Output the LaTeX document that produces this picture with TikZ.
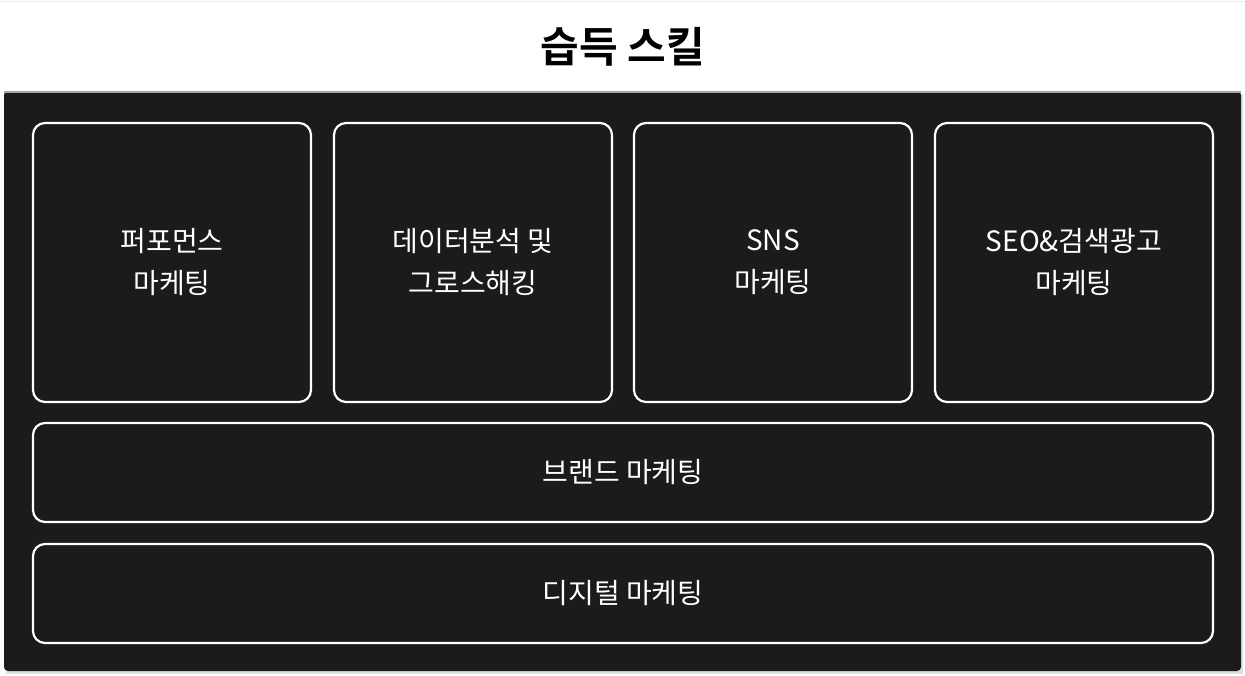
\documentclass[tikz,border=0pt]{standalone}
\usepackage{fontspec}
\newfontfamily\cjk{Noto Sans CJK KR}[BoldFont={Noto Sans CJK KR Bold}]
\definecolor{panel}{HTML}{1B1B1B}

\begin{document}
\begin{tikzpicture}
  [x=1pt,y=-1pt,
   skill/.style={draw=white,line width=2.2pt,rounded corners=12pt,fill=panel,
     text=white,font=\cjk\fontsize{28}{42}\selectfont,align=center,
     inner sep=0pt,minimum width=278pt,minimum height=279pt},
   wide/.style={skill,minimum width=1180pt,minimum height=99pt}]
  \useasboundingbox (0,0) rectangle (1245,675);
  \fill[white] (0,0) rectangle (1245,675);
  \draw[gray!15,line width=1pt] (0,1) -- (1245,1);

  % panel
  \fill[gray!25] (6,94) rectangle (1243,674);
  \fill[panel,rounded corners=4pt] (4,91) rectangle (1241,671);
  \draw[gray!70,line width=2.5pt] (4,92) -- (1241,92);

  \node[font=\cjk\bfseries\fontsize{42}{50}\selectfont] (title) at (623,47) {습득 스킬};

  \node[skill] (perf) at (172,262.5) {퍼포먼스\\마케팅};
  \node[skill] (data) at (473,262.5) {데이터분석 및\\그로스해킹};
  \node[skill] (sns) at (773,262.5) {SNS\\마케팅};
  \node[skill] (seo) at (1074,262.5) {SEO\&검색광고\\마케팅};

  \node[wide] (brand) at (623,472.5) {브랜드 마케팅};
  \node[wide] (digital) at (623,593.5) {디지털 마케팅};

\end{tikzpicture}
\end{document}
